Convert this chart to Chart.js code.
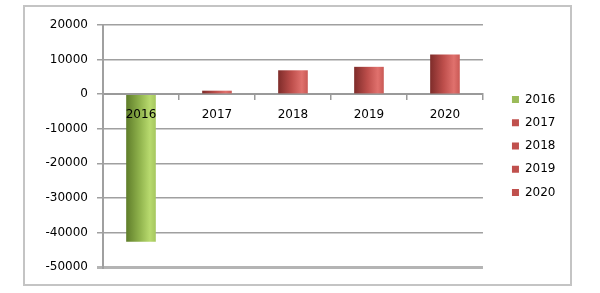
<!DOCTYPE html>
<html>
<head>
<meta charset="utf-8">
<script src="https://cdn.jsdelivr.net/npm/chart.js@4/dist/chart.umd.min.js"></script>
<style>
  html, body { margin: 0; padding: 0; background: #ffffff; }
  #wrap { width: 600px; height: 293px; position: relative; }
</style>
</head>
<body>
<div id="wrap"><canvas id="chart" width="600" height="293"></canvas></div>
<script>
// Yearly figures
const years = ['2016', '2017', '2018', '2019', '2020'];
const amounts = [-42700, 1000, 6900, 7900, 11500];

// Value axis
const yMin = -50000;
const yMax = 20000;
const yStep = 10000;

// Palette per year: base colour plus shading stops for the rounded look
const baseColors = ['#9bbb59', '#c0504d', '#c0504d', '#c0504d', '#c0504d'];
const shadeStops = {
  '#9bbb59': ['#5f7d2a', '#8fb24c', '#b8da6e', '#a6c75f'],
  '#c0504d': ['#7e2c2a', '#bd4e4b', '#e0716d', '#c95955']
};

const BAR_FRACTION = 0.39;

Chart.defaults.font.family = '"DejaVu Sans", Verdana, sans-serif';
Chart.defaults.font.size = 12;
Chart.defaults.color = '#000000';

function barFill(ctx) {
  const base = baseColors[ctx.dataIndex] || '#c0504d';
  if (ctx.type !== 'data') return base;
  const chart = ctx.chart;
  const xs = chart.scales.x;
  const area = chart.chartArea;
  if (!xs || !area) return base;
  const cx = xs.getPixelForValue(ctx.dataIndex);
  const w = (area.right - area.left) / years.length * BAR_FRACTION;
  const g = chart.ctx.createLinearGradient(cx - w / 2, 0, cx + w / 2, 0);
  const s = shadeStops[base];
  g.addColorStop(0, s[0]);
  g.addColorStop(0.45, s[1]);
  g.addColorStop(0.8, s[2]);
  g.addColorStop(1, s[3]);
  return g;
}

// Light frame around the whole figure
const framePlugin = {
  id: 'frame',
  beforeDraw(chart) {
    const c = chart.ctx;
    c.save();
    c.fillStyle = '#ffffff';
    c.fillRect(0, 0, chart.width, chart.height);
    c.strokeStyle = '#c4c4c4';
    c.lineWidth = 2;
    c.strokeRect(24, 6, 547, 279);
    c.restore();
  }
};

new Chart(document.getElementById('chart'), {
  type: 'bar',
  data: {
    labels: years,
    datasets: [{
      label: 'Value',
      data: amounts,
      backgroundColor: barFill,
      borderWidth: 0,
      categoryPercentage: 1,
      barPercentage: BAR_FRACTION
    }]
  },
  plugins: [framePlugin],
  options: {
    responsive: false,
    animation: false,
    layout: { padding: { left: 45, right: 34.5, top: 25, bottom: 26 } },
    scales: {
      x: {
        position: { y: 0 },
        grid: {
          drawOnChartArea: false,
          drawTicks: true,
          tickLength: 5,
          color: '#9a9a9a',
          lineWidth: 1.5
        },
        border: { display: true, color: '#9a9a9a', width: 2 },
        ticks: { z: 1, padding: 9, color: '#000000', font: { size: 12 } }
      },
      y: {
        min: yMin,
        max: yMax,
        afterFit(scale) { scale.width = 58; },
        ticks: {
          stepSize: yStep,
          padding: 9,
          color: '#000000',
          font: { size: 12 },
          callback: (v) => String(v)
        },
        grid: {
          color: (ctx) => (ctx.tick && ctx.tick.value === yMin ? '#b4b4b4' : '#a0a0a0'),
          lineWidth: (ctx) => (ctx.tick && ctx.tick.value === yMin ? 3 : 1.5),
          tickLength: 6
        },
        border: { display: true, color: '#a0a0a0', width: 2 }
      },
      gap: {
        type: 'linear',
        position: 'right',
        display: true,
        afterFit(scale) { scale.width = 17.8; },
        grid: { display: false, drawTicks: false },
        border: { display: false },
        ticks: { display: false }
      }
    },
    plugins: {
      tooltip: { enabled: false },
      legend: {
        position: 'right',
        labels: {
          boxWidth: 7,
          boxHeight: 7,
          padding: 11.2,
          color: '#000000',
          font: { size: 12 },
          generateLabels: () => years.map((y, i) => ({
            text: y,
            fillStyle: baseColors[i],
            strokeStyle: baseColors[i],
            lineWidth: 0,
            hidden: false,
            index: i
          }))
        }
      }
    }
  }
});
</script>
</body>
</html>
